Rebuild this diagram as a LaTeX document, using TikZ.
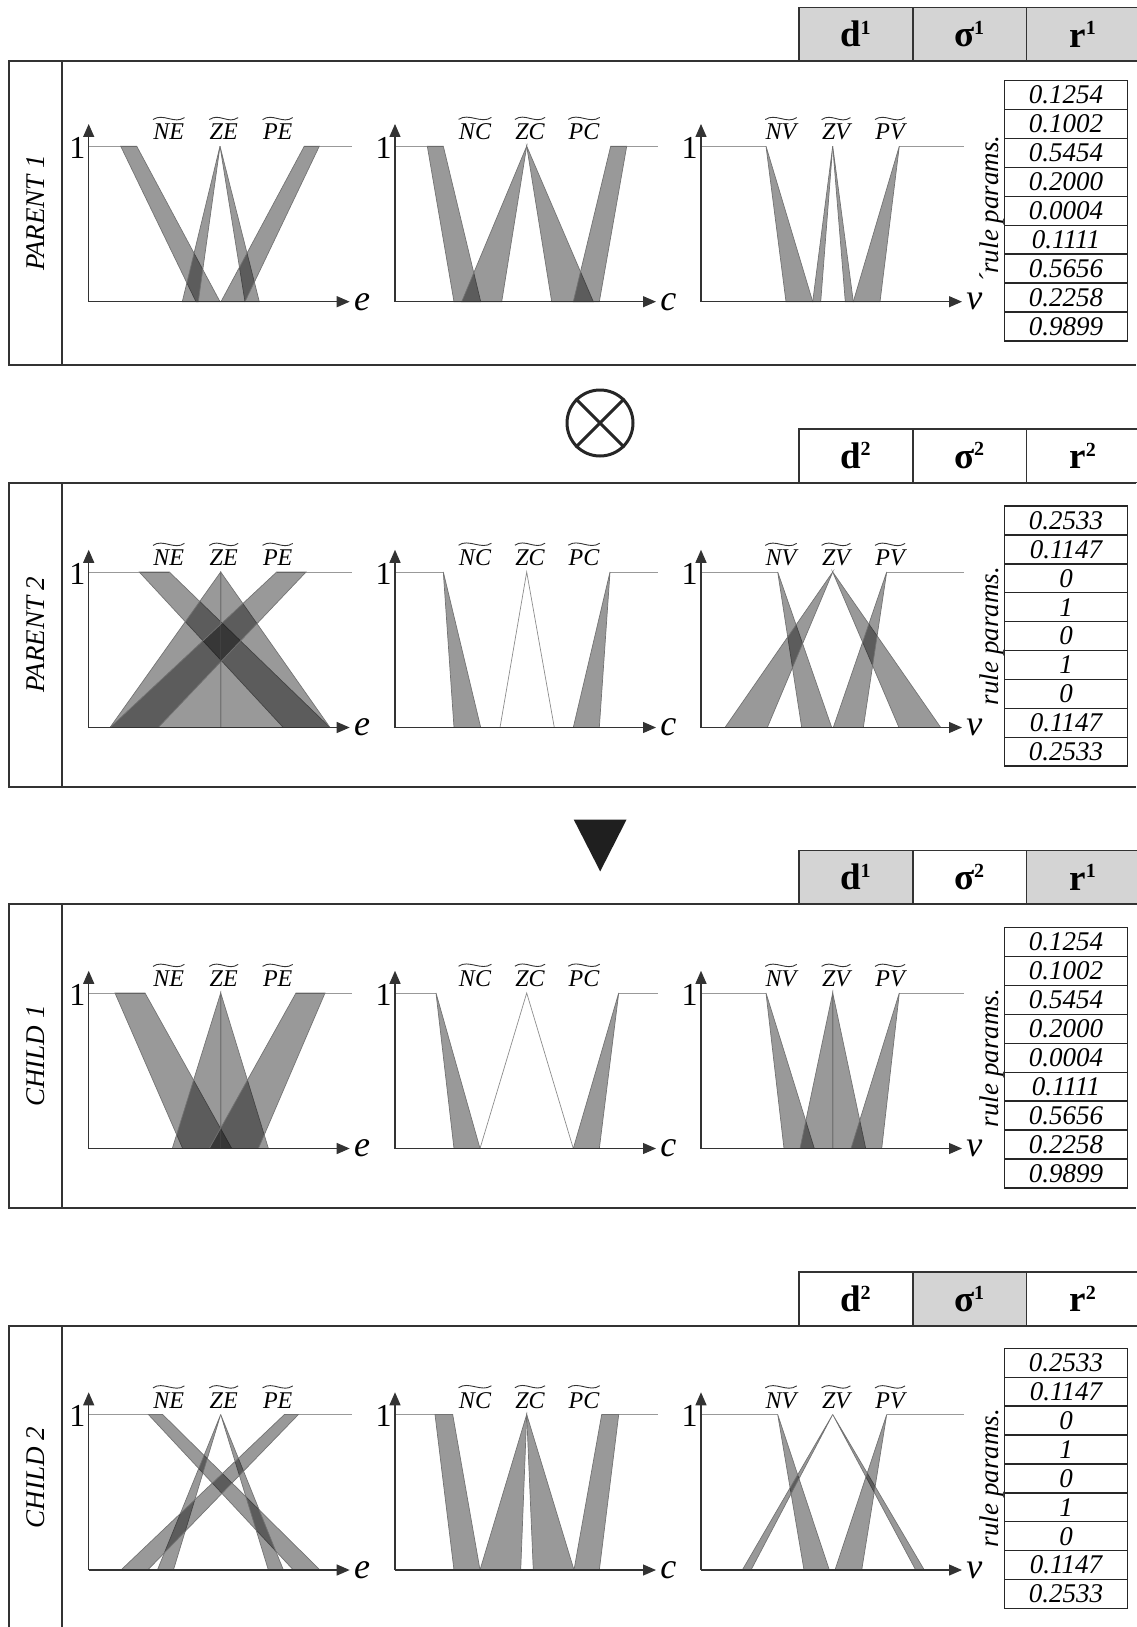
\documentclass[tikz,border=0pt]{standalone}
\usepackage{fontspec}
\setmainfont{Liberation Serif}
\usetikzlibrary{positioning,arrows.meta}
\colorlet{headgray}{black!17}
\newcommand{\hsup}[1]{\textsuperscript{\fontsize{10}{10}\selectfont #1}}
\tikzset{
  chart/.style={x=0.5pt, y=77.75pt},
  axisarrow/.style={-{Triangle[length=6.5pt, width=5.5pt]}, line width=0.6pt, black!80},
  levelline/.style={line width=0.3pt, black!40},
  fou/.style={fill=black, fill opacity=0.4, draw=black!55, line width=0.35pt},
  zeroline/.style={draw=black!45, line width=0.35pt},
  tildemark/.style={line width=0.45pt, black!80},
  panelbox/.style={line width=1pt, black!80},
  headcell/.style={draw=black!80, line width=0.8pt, minimum width=56.85pt, minimum height=26.75pt, inner sep=0pt, outer sep=0pt, font=\fontsize{18.5}{20}\selectfont\bfseries},
  rulecell/.style={draw=black!85, line width=0.7pt, minimum width=61.7pt, minimum height=14.45pt, inner sep=0pt, outer sep=0pt, font=\fontsize{13.5}{14}\selectfont\itshape},
  sidelabel/.style={rotate=90, inner sep=0pt, font=\fontsize{13.5}{14}\selectfont\itshape},
  paramlabel/.style={rotate=90, inner sep=0pt, font=\fontsize{13.5}{14}\selectfont\itshape},
  onelabel/.style={anchor=east, inner sep=0pt, font=\fontsize{16}{17}\selectfont},
  varlabel/.style={anchor=west, inner sep=0pt, font=\fontsize{18}{20}\selectfont\itshape},
  setlabel/.style={anchor=base, yshift=3.25pt, inner sep=0pt, font=\fontsize{12}{13}\selectfont\itshape},
  pics/mfaxes/.style n args={2}{code={
    \draw[axisarrow] (0,0) -- (0,1.143);
    \draw[axisarrow] (0,0) -- (261,0);
    \node[onelabel] (-one) at (-3,0.99) {1};
    \node[varlabel] (-var) at (265,0) {#1};
    \node[setlabel] (-n) at (80,1) {N#2};
    \node[setlabel] (-z) at (135,1) {Z#2};
    \node[setlabel] (-p) at (189,1) {P#2};
    \foreach \s in {-n,-z,-p}
      \draw[tildemark] ([yshift=2pt]\s.north west) .. controls +(5pt,3.5pt) and +(-5pt,-3.5pt) .. ([yshift=3pt]\s.north east);
  }}
}

\begin{document}
\begin{tikzpicture}[x=0.5pt, y=-0.5pt]
  \useasboundingbox (0,0) rectangle (1136,1627);

  \foreach \ptop/\lab/\dtxt/\stxt/\rtxt/\dcol/\scol/\rcol [count=\i] in {
    61/PARENT 1/1/1/1/headgray/headgray/headgray,
    482.5/PARENT 2/2/2/2/white/white/white,
    904/CHILD 1/1/2/1/headgray/white/headgray,
    1325.7/CHILD 2/2/1/2/white/headgray/white}{
    \draw[panelbox] (1136,\ptop) -- (9,\ptop) -- (9,\ptop+304) -- (1136,\ptop+304);
    \draw[panelbox] (62,\ptop) -- (62,\ptop+304);
    \node[sidelabel] (side\i) at (35.5,\ptop+152) {\lab};
    \node[headcell, fill=\dcol, anchor=north west] (hd\i) at (799,\ptop-53.5) {d\hsup{\dtxt}};
    \node[headcell, fill=\scol, right=0pt of hd\i] (hs\i) {σ\hsup{\stxt}};
    \node[headcell, fill=\rcol, right=0pt of hs\i] (hr\i) {r\hsup{\rtxt}};
  }

  \foreach \v [count=\k] in {0.1254,0.1002,0.5454,0.2000,0.0004,0.1111,0.5656,0.2258,0.9899}
    \node[rulecell] (ta\k) at (1066,80.7+\k*28.9-14.45) {\v};
  \foreach \v [count=\k] in {0.2533,0.1147,0,1,0,1,0,0.1147,0.2533}
    \node[rulecell] (tb\k) at (1066,506+\k*28.9-14.45) {\v};
  \foreach \v [count=\k] in {0.1254,0.1002,0.5454,0.2000,0.0004,0.1111,0.5656,0.2258,0.9899}
    \node[rulecell] (tc\k) at (1066,927.7+\k*28.9-14.45) {\v};
  \foreach \v [count=\k] in {0.2533,0.1147,0,1,0,1,0,0.1147,0.2533}
    \node[rulecell] (td\k) at (1066,1348.3+\k*28.9-14.45) {\v};

  \node[paramlabel] (pa) at (992,209) {´rule params.};
  \node[paramlabel] (pb) at (992,636) {rule params.};
  \node[paramlabel] (pc) at (992,1058) {rule params.};
  \node[paramlabel] (pd) at (992,1478) {rule params.};

  \node[draw=black!85, circle, line width=1.5pt, minimum size=33pt, inner sep=0pt] (cross) at (600,423) {};
  \draw[line width=1.5pt, black!85] (cross.north west) -- (cross.south east) (cross.north east) -- (cross.south west);
  \fill[black!88] (573.7,819.5) -- (626.6,819.5) -- (600.2,871.4) -- cycle;

  \begin{scope}[shift={(88.7,301.7)}, chart]
    \draw[levelline] (0,1) -- (48,1) (215.6,1) -- (263,1);
    \draw[fou] (32,1) -- (48,1) -- (131.3,0) -- (107.3,0) -- cycle;
    \draw[fou] (93.6,0) -- (109.6,0) -- (131.3,1) -- cycle;
    \draw[fou] (156.3,0) -- (170.6,0) -- (131.3,1) -- cycle;
    \draw[fou] (132.3,0) -- (156.3,0) -- (230.6,1) -- (215.6,1) -- cycle;
    \pic (p1e) at (0,0) {mfaxes={e}{E}};
  \end{scope}
  \begin{scope}[shift={(395,301.7)}, chart]
    \draw[levelline] (0,1) -- (48.3,1) (215.7,1) -- (263,1);
    \draw[fou] (32.3,1) -- (48.3,1) -- (85.7,0) -- (59,0) -- cycle;
    \draw[fou] (66.7,0) -- (106.7,0) -- (131.7,1) -- cycle;
    \draw[fou] (156.7,0) -- (198.3,0) -- (131.7,1) -- cycle;
    \draw[fou] (178.3,0) -- (204.3,0) -- (231.7,1) -- (215.7,1) -- cycle;
    \pic (p1c) at (0,0) {mfaxes={c}{C}};
  \end{scope}
  \begin{scope}[shift={(701,301.7)}, chart]
    \draw[levelline] (0,1) -- (65,1) (198.3,1) -- (263,1);
    \draw[fou] (65,1) -- (111.7,0) -- (85,0) -- cycle;
    \draw[fou] (111.7,0) -- (119.7,0) -- (131.7,1) -- cycle;
    \draw[fou] (144.3,0) -- (152.3,0) -- (131.7,1) -- cycle;
    \draw[fou] (152.3,0) -- (179,0) -- (198.3,1) -- cycle;
    \pic (p1v) at (0,0) {mfaxes={v}{V}};
  \end{scope}

  \begin{scope}[shift={(88.7,727.5)}, chart]
    \draw[levelline] (0,1) -- (80.6,1) (188,1) -- (263,1);
    \draw[fou] (50.6,1) -- (80.6,1) -- (241.3,0) -- (194.6,0) -- cycle;
    \draw[fou] (21.3,0) -- (132,1) -- (132,0) -- cycle;
    \draw[fou] (132,0) -- (132,1) -- (241.3,0) -- cycle;
    \draw[fou] (21.3,0) -- (69.6,0) -- (217.3,1) -- (188,1) -- cycle;
    \pic (p2e) at (0,0) {mfaxes={e}{E}};
  \end{scope}
  \begin{scope}[shift={(395,727.5)}, chart]
    \draw[levelline] (0,1) -- (48.3,1) (215,1) -- (263,1);
    \draw[fou] (48.3,1) -- (85.7,0) -- (59,0) -- cycle;
    \draw[zeroline] (105,0) -- (131.7,1) -- (159.3,0);
    \draw[fou] (178.3,0) -- (204.3,0) -- (215,1) -- cycle;
    \pic (p2c) at (0,0) {mfaxes={c}{C}};
  \end{scope}
  \begin{scope}[shift={(701,727.5)}, chart]
    \draw[levelline] (0,1) -- (76.7,1) (185.7,1) -- (263,1);
    \draw[fou] (76.7,1) -- (130.7,0) -- (100.7,0) -- cycle;
    \draw[fou] (24,0) -- (66.3,0) -- (131.7,1) -- cycle;
    \draw[fou] (198,0) -- (239.7,0) -- (131.7,1) -- cycle;
    \draw[fou] (132.3,0) -- (162.3,0) -- (185.7,1) -- cycle;
    \pic (p2v) at (0,0) {mfaxes={v}{V}};
  \end{scope}

  \begin{scope}[shift={(88.7,1148.5)}, chart]
    \draw[levelline] (0,1) -- (56.3,1) (207.3,1) -- (263,1);
    \draw[fou] (26.3,1) -- (56.3,1) -- (143,0) -- (94,0) -- cycle;
    \draw[fou] (83.6,0) -- (132,1) -- (132,0) -- cycle;
    \draw[fou] (132,0) -- (132,1) -- (179.7,0) -- cycle;
    \draw[fou] (120.6,0) -- (169.7,0) -- (236.3,1) -- (207.3,1) -- cycle;
    \pic (c1e) at (0,0) {mfaxes={e}{E}};
  \end{scope}
  \begin{scope}[shift={(395,1148.5)}, chart]
    \draw[levelline] (0,1) -- (41,1) (223.7,1) -- (263,1);
    \draw[fou] (41,1) -- (85,0) -- (59,0) -- cycle;
    \draw[zeroline] (85,0) -- (131.7,1) -- (178.3,0);
    \draw[fou] (178.3,0) -- (204.3,0) -- (223.7,1) -- cycle;
    \pic (c1c) at (0,0) {mfaxes={c}{C}};
  \end{scope}
  \begin{scope}[shift={(701,1148.5)}, chart]
    \draw[levelline] (0,1) -- (65,1) (198.3,1) -- (263,1);
    \draw[fou] (65,1) -- (113.3,0) -- (83,0) -- cycle;
    \draw[fou] (99,0) -- (131.7,1) -- (131.7,0) -- cycle;
    \draw[fou] (131.7,0) -- (131.7,1) -- (164.7,0) -- cycle;
    \draw[fou] (150,0) -- (180.7,0) -- (198.3,1) -- cycle;
    \pic (c1v) at (0,0) {mfaxes={v}{V}};
  \end{scope}

  \begin{scope}[shift={(88.7,1570)}, chart]
    \draw[levelline] (0,1) -- (74,1) (195.7,1) -- (263,1);
    \draw[fou] (59.7,1) -- (74,1) -- (231.3,0) -- (204.7,0) -- cycle;
    \draw[fou] (68.7,0) -- (84.7,0) -- (132,1) -- cycle;
    \draw[fou] (179.7,0) -- (194.7,0) -- (132,1) -- cycle;
    \draw[fou] (32.3,0) -- (59,0) -- (209.7,1) -- (195.7,1) -- cycle;
    \pic (c2e) at (0,0) {mfaxes={e}{E}};
  \end{scope}
  \begin{scope}[shift={(395,1570)}, chart]
    \draw[levelline] (0,1) -- (57.7,1) (206.7,1) -- (263,1);
    \draw[fou] (40,1) -- (57.7,1) -- (85,0) -- (59,0) -- cycle;
    \draw[fou] (85,0) -- (125.7,0) -- (131.7,1) -- cycle;
    \draw[fou] (138.3,0) -- (179,0) -- (131.7,1) -- cycle;
    \draw[fou] (179,0) -- (204.3,0) -- (223.7,1) -- (206.7,1) -- cycle;
    \pic (c2c) at (0,0) {mfaxes={c}{C}};
  \end{scope}
  \begin{scope}[shift={(701,1570)}, chart]
    \draw[levelline] (0,1) -- (76.7,1) (185.7,1) -- (263,1);
    \draw[fou] (76.7,1) -- (128.3,0) -- (103,0) -- cycle;
    \draw[fou] (41.3,0) -- (50,0) -- (131.7,1) -- cycle;
    \draw[fou] (214.7,0) -- (223.3,0) -- (131.7,1) -- cycle;
    \draw[fou] (134,0) -- (160.7,0) -- (185.7,1) -- cycle;
    \pic (c2v) at (0,0) {mfaxes={v}{V}};
  \end{scope}
\end{tikzpicture}
\end{document}
